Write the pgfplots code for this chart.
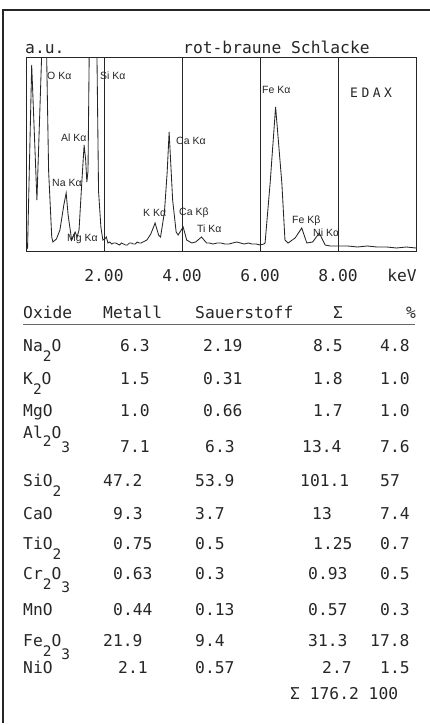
\documentclass[border=0pt]{standalone}
\usepackage{fontspec}
\setmainfont{Liberation Sans}
\setmonofont{DejaVu Sans Mono}
\newfontfamily\lab{Liberation Sans}
\usepackage{pgfplots}
\pgfplotsset{compat=1.18}
\definecolor{ink}{gray}{0.15}

\newcommand\tf{\ttfamily\fontsize{16.3}{18}\selectfont}
\newcommand\dn[2]{\raisebox{-#1pt}{\fontsize{14.5}{16}\selectfont #2}}
\newcommand\pk[3]{\node[anchor=west, inner sep=0, font=\lab\fontsize{10.5}{10.5}\selectfont] at (#1,#2) {#3};}
\newcommand\cell[3]{\node[anchor=base west, inner sep=0, font=\tf] at (#1,#2) {#3};}

\begin{document}
\begin{tikzpicture}
\useasboundingbox (0,0) rectangle (430pt,-725pt);
\begin{axis}[
  at={(26pt,-251pt)}, anchor=south west,
  width=390pt, height=194pt, scale only axis,
  xmin=0, xmax=10, ymin=0, ymax=194,
  axis line style={ink, line width=0.8pt},
  xtick={2,4,6,8}, xticklabels={2.00,4.00,6.00,8.00},
  ytick=\empty,
  major tick length=0pt,
  xmajorgrids, grid style={ink, line width=0.7pt},
  xticklabel style={font=\tf, anchor=base, yshift=-30pt, text=ink},
  clip=true,
]
\addplot[ink, line width=0.85pt] coordinates {
(0.00,1) (0.04,3) (0.146,186) (0.28,51) (0.40,194) (0.46,450) (0.53,194)
(0.58,80) (0.66,14) (0.69,9) (0.78,12) (0.87,21) (0.97,46) (1.03,58)
(1.08,36) (1.17,11) (1.26,19) (1.31,14) (1.36,21) (1.43,68) (1.49,106)
(1.53,91) (1.56,69) (1.59,80) (1.62,194) (1.72,600) (1.82,194) (1.86,60)
(1.92,24) (1.97,11) (2.02,12) (2.06,14) (2.10,8) (2.15,9) (2.20,7)
(2.25,8) (2.30,8) (2.35,7) (2.40,6) (2.45,8) (2.50,7) (2.55,6) (2.60,6)
(2.65,8) (2.70,8) (2.75,7) (2.80,7) (2.85,9) (2.90,8) (2.95,8) (3.00,9)
(3.10,11) (3.20,17) (3.31,28) (3.40,16) (3.45,14) (3.55,39) (3.62,79)
(3.67,119) (3.76,51) (3.85,19) (3.90,16) (4.03,24) (4.12,11) (4.25,8)
(4.35,9) (4.50,14) (4.63,8) (4.70,8) (4.80,7) (4.90,8) (5.00,8) (5.10,7)
(5.20,7) (5.30,8) (5.40,9) (5.50,8) (5.60,7) (5.70,8) (5.80,7) (5.90,7)
(6.00,6) (6.10,7) (6.13,8) (6.26,68) (6.40,144) (6.56,68) (6.64,11)
(6.72,8) (6.90,13) (7.07,23) (7.20,8) (7.35,9) (7.52,18) (7.67,6)
(7.80,5) (8.00,5) (8.25,5) (8.50,4) (8.75,5) (9.00,4) (9.25,4) (9.50,3)
(9.75,4) (10.00,3)
};
\end{axis}
\begin{scope}[x=1pt, y=-1pt, text=ink]
% outer frame
\draw[ink, line width=1.4pt] (3,723) -- (3,10) -- (430,10);
% titles
\cell{25}{53}{a.u.}
\cell{183}{53}{rot-braune Schlacke}
\node[anchor=base east, inner sep=0, font=\tf] at (417,281) {keV};
% peak labels
\pk{47}{76}{O Kα}
\pk{100}{76}{Si Kα}
\pk{262}{90}{Fe Kα}
\pk{61}{138}{Al Kα}
\pk{176}{141}{Ca Kα}
\pk{52}{183}{Na Kα}
\pk{143}{213}{K Kα}
\pk{179}{213}{Ca Kβ}
\pk{197}{229}{Ti Kα}
\pk{292}{221}{Fe Kβ}
\pk{313}{233}{Ni Kα}
\pk{67}{239}{Mg Kα}
\node[anchor=west, inner sep=0, font=\tf\fontsize{13}{13}\selectfont] at (350,93) {E\hspace{3.5pt}D\hspace{3.5pt}A\hspace{3.5pt}X};
% table
\cell{23}{318}{Oxide}
\cell{103}{318}{Metall}
\cell{195}{318}{Sauerstoff}
\cell{333}{318}{Σ}
\cell{406}{318}{\%}
\draw[ink!70, line width=0.6pt] (23,324) -- (415,324);
\cell{23}{351}{Na\dn{10}{2}O}
\cell{120}{351}{6.3}\cell{203}{351}{2.19}\cell{313}{351}{8.5}\cell{380}{351}{4.8}
\cell{23}{384}{K\dn{10}{2}O}
\cell{120}{384}{1.5}\cell{203}{384}{0.31}\cell{313}{384}{1.8}\cell{380}{384}{1.0}
\cell{23}{416}{MgO}
\cell{120}{416}{1.0}\cell{203}{416}{0.66}\cell{313}{416}{1.7}\cell{380}{416}{1.0}
\cell{23}{452}{\raisebox{14pt}{Al\dn{8}{2}O\dn{14}{3}}}
\cell{120}{452}{7.1}\cell{205}{452}{6.3}\cell{302}{452}{13.4}\cell{380}{452}{7.6}
\cell{23}{486}{SiO\dn{10}{2}}
\cell{103}{486}{47.2}\cell{195}{486}{53.9}\cell{300}{486}{101.1}\cell{380}{486}{57}
\cell{23}{519}{CaO}
\cell{113}{519}{9.3}\cell{195}{519}{3.7}\cell{312}{519}{13}\cell{380}{519}{7.4}
\cell{23}{549}{TiO\dn{10}{2}}
\cell{113}{549}{0.75}\cell{195}{549}{0.5}\cell{313}{549}{1.25}\cell{380}{549}{0.7}
\cell{23}{579}{Cr\dn{10}{2}O\dn{13}{3}}
\cell{113}{579}{0.63}\cell{195}{579}{0.3}\cell{308}{579}{0.93}\cell{380}{579}{0.5}
\cell{23}{615}{MnO}
\cell{113}{615}{0.44}\cell{195}{615}{0.13}\cell{308}{615}{0.57}\cell{380}{615}{0.3}
\cell{23}{646}{Fe\dn{10}{2}O\dn{13}{3}}
\cell{103}{646}{21.9}\cell{195}{646}{9.4}\cell{308}{646}{31.3}\cell{370}{646}{17.8}
\cell{23}{673}{NiO}
\cell{118}{673}{2.1}\cell{195}{673}{0.57}\cell{322}{673}{2.7}\cell{380}{673}{1.5}
\cell{290}{699}{Σ 176.2 100}
\end{scope}
\end{tikzpicture}
\end{document}
